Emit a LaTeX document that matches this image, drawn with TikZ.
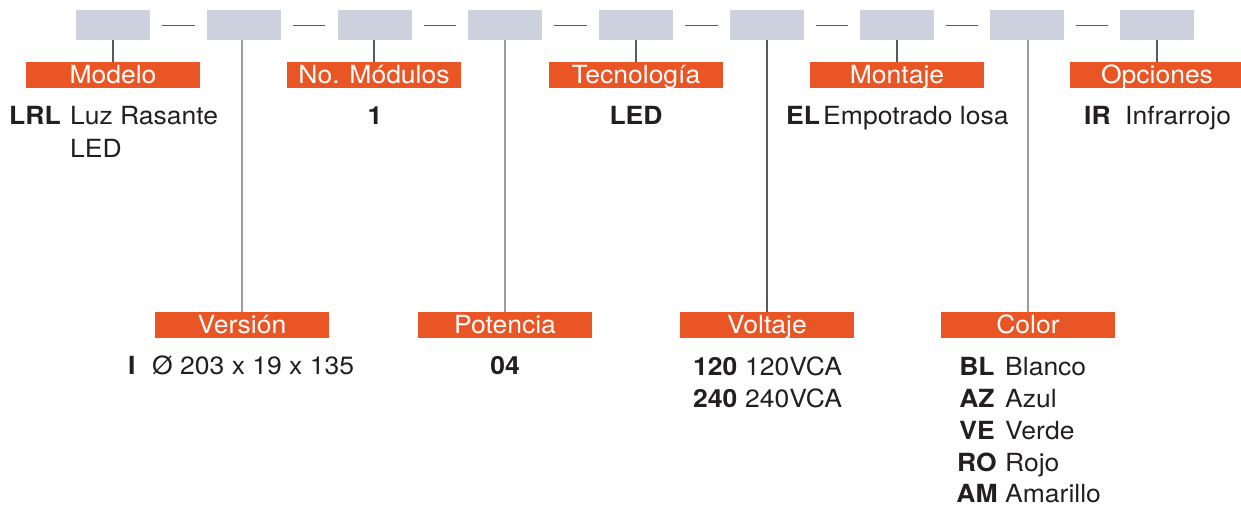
\documentclass[tikz,border=0pt]{standalone}
\usepackage{fontspec}
\setmainfont{TeX Gyre Heros}[FakeStretch=1.06]
\definecolor{boxgrey}{HTML}{CDD0DD}
\definecolor{orng}{HTML}{E95524}
\definecolor{txt}{HTML}{231F20}
\definecolor{lnlight}{HTML}{9D9D9D}
\definecolor{lndark}{HTML}{5A5A5A}
\begin{document}
\begin{tikzpicture}[x=1pt,y=-1pt,
  codebox/.style={fill=boxgrey, draw=none, minimum width=74pt, minimum height=30pt, inner sep=0pt},
  tag/.style={fill=orng, text=white, minimum width=174pt, minimum height=26pt, inner sep=0pt, text height=21pt, text depth=5pt, font=\fontsize{25}{30}\selectfont},
  body/.style={text=txt, inner sep=0pt, font=\fontsize{25}{33}\selectfont},
  bold/.style={text=txt, inner sep=0pt, font=\fontsize{25}{33}\selectfont\bfseries},
  sep/.style={draw=lndark, line width=1pt},
  leadlight/.style={draw=lnlight, line width=1.3pt},
  leaddark/.style={draw=lndark, line width=1.1pt}]
\useasboundingbox (0,0) rectangle (1241,506);
% code boxes
\node[codebox] (b1) at (113,25) {};
\node[codebox] (b2) at (244,25) {};
\node[codebox] (b3) at (374.5,25) {};
\node[codebox] (b4) at (505,25) {};
\node[codebox] (b5) at (636,25) {};
\node[codebox] (b6) at (767,25) {};
\node[codebox] (b7) at (897,25) {};
\node[codebox] (b8) at (1027,25) {};
\node[codebox] (b9) at (1157,25) {};
\foreach \a/\b in {b1/b2,b2/b3,b3/b4,b4/b5,b5/b6,b6/b7,b7/b8,b8/b9}
  \draw[sep] ([xshift=12pt]\a.east) -- ([xshift=-12pt]\b.west);
% tags
\node[tag] (t1) at (113,75) {Modelo};
\node[tag] (t3) at (374,75) {No. Módulos};
\node[tag] (t5) at (636,75) {Tecnología};
\node[tag] (t7) at (897,75) {Montaje};
\node[tag] (t9) at (1157,75) {Opciones};
\node[tag] (t2) at (242,325) {Versión};
\node[tag] (t4) at (505,325) {Potencia};
\node[tag] (t6) at (767,325) {Voltaje};
\node[tag] (t8) at (1028,325) {Color};
% leaders
\draw[leaddark] (t1.north |- b1.south) -- (t1.north);
\draw[leadlight] (t2.north |- b2.south) -- (t2.north);
\draw[leaddark] (t3.north |- b3.south) -- (t3.north);
\draw[leadlight] (t4.north |- b4.south) -- (t4.north);
\draw[leaddark] (t5.north |- b5.south) -- (t5.north);
\draw[leaddark] (t6.north |- b6.south) -- (t6.north);
\draw[leaddark] (t7.north |- b7.south) -- (t7.north);
\draw[leadlight] (t8.north |- b8.south) -- (t8.north);
\draw[leaddark] (t9.north |- b9.south) -- (t9.north);
% texts top row
\node[bold, anchor=base west] (m1) at (9,124) {LRL};
\node[body, anchor=base west] (m2) at (70,124) {Luz Rasante};
\node[body, anchor=base west] (m3) at (70,157) {LED};
\node[bold, anchor=base] (n1) at (375,124) {1};
\node[bold, anchor=base] (te1) at (636,124) {LED};
\node[bold, anchor=base west] (mo1) at (786,124) {EL};
\node[body, anchor=base west] (mo2) at (823,124) {Empotrado losa};
\node[bold, anchor=base west] (o1) at (1084,124) {IR};
\node[body, anchor=base west] (o2) at (1125,124) {Infrarrojo};
% texts bottom row
\node[bold, anchor=base west] (v1) at (128,374) {I};
\node[body, anchor=base west] (v2) at (152,374) {Ø 203 x 19 x 135};
\node[bold, anchor=base] (p1) at (505,374) {04};
\node[bold, anchor=base west] (vo1) at (693,375) {120};
\node[body, anchor=base west] (vo2) at (745,375) {120VCA};
\node[bold, anchor=base west] (vo3) at (693,407) {240};
\node[body, anchor=base west] (vo4) at (745,407) {240VCA};
\node[bold, anchor=base] (c1) at (977,375) {BL};
\node[body, anchor=base west] (c2) at (1005,375) {Blanco};
\node[bold, anchor=base] (c3) at (977,407) {AZ};
\node[body, anchor=base west] (c4) at (1005,407) {Azul};
\node[bold, anchor=base] (c5) at (977,439) {VE};
\node[body, anchor=base west] (c6) at (1005,439) {Verde};
\node[bold, anchor=base] (c7) at (977,471) {RO};
\node[body, anchor=base west] (c8) at (1005,471) {Rojo};
\node[bold, anchor=base] (c9) at (977,502) {AM};
\node[body, anchor=base west] (c10) at (1005,502) {Amarillo};
\end{tikzpicture}
\end{document}
